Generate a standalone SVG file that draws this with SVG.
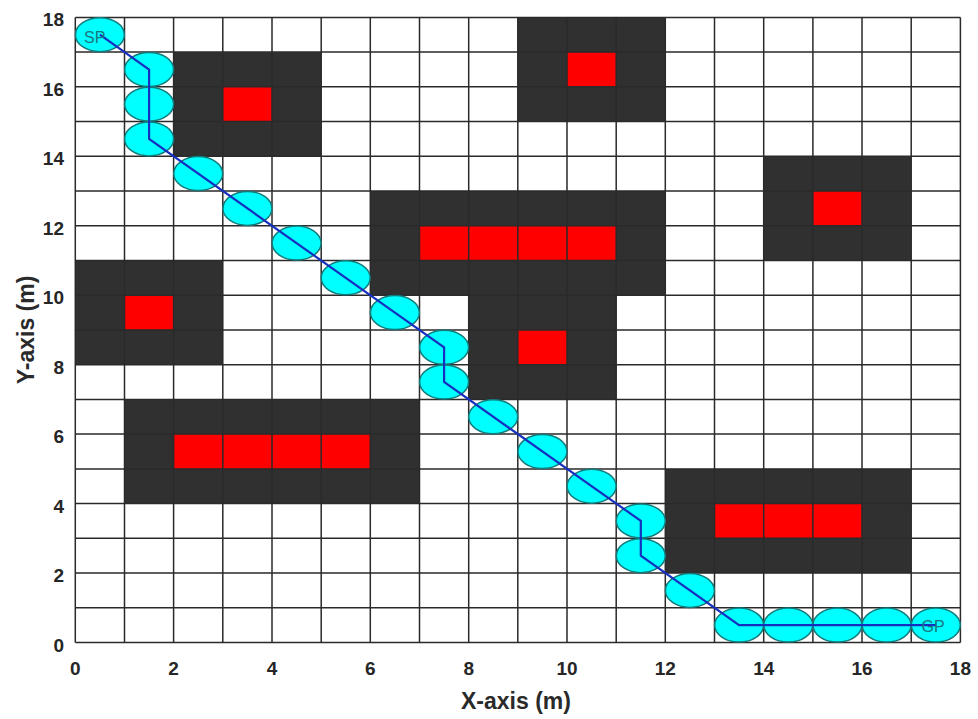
<svg xmlns="http://www.w3.org/2000/svg" width="978" height="719" viewBox="0 0 978 719">
<style>
.obs{fill:#303030}
.red{fill:#ff0000}
.grid{stroke:#2a2a2a;stroke-width:1.5;fill:none}
.wp{fill:#00ffff;stroke:#127a7a;stroke-width:1.5}
.route{fill:none;stroke:#1530c0;stroke-width:2.2;stroke-linejoin:miter}
.tick{font-family:"Liberation Sans",Arial,sans-serif;font-size:19px;font-weight:bold;fill:#262626}
.axl{font-family:"Liberation Sans",Arial,sans-serif;font-size:23px;font-weight:bold;fill:#2a2a2a}
.lbl{font-family:"Liberation Sans",Arial,sans-serif;font-size:16px;fill:#17777d}
</style>
<rect x="0" y="0" width="978" height="719" fill="#ffffff"/>
<g id="obstacles">
<g id="obstacle1"><rect class="obs" x="173.6" y="52.1" width="147.5" height="104.2"/><rect class="red" x="222.8" y="86.8" width="49.2" height="34.7"/></g>
<g id="obstacle2"><rect class="obs" x="517.8" y="17.4" width="147.5" height="104.2"/><rect class="red" x="567.0" y="52.1" width="49.2" height="34.7"/></g>
<g id="obstacle3"><rect class="obs" x="763.7" y="156.3" width="147.5" height="104.2"/><rect class="red" x="812.9" y="191.0" width="49.2" height="34.7"/></g>
<g id="obstacle4"><rect class="obs" x="370.3" y="191.0" width="295.0" height="104.2"/><rect class="red" x="419.5" y="225.7" width="196.7" height="34.7"/></g>
<g id="obstacle5"><rect class="obs" x="75.3" y="260.5" width="147.5" height="104.2"/><rect class="red" x="124.5" y="295.2" width="49.2" height="34.7"/></g>
<g id="obstacle6"><rect class="obs" x="468.7" y="295.2" width="147.5" height="104.2"/><rect class="red" x="517.8" y="329.9" width="49.2" height="34.7"/></g>
<g id="obstacle7"><rect class="obs" x="124.5" y="399.4" width="295.0" height="104.2"/><rect class="red" x="173.6" y="434.1" width="196.7" height="34.7"/></g>
<g id="obstacle8"><rect class="obs" x="665.3" y="468.9" width="245.9" height="104.2"/><rect class="red" x="714.5" y="503.6" width="147.5" height="34.7"/></g>
</g>
<g id="grid">
<path class="grid" d="M75.3 17.4V642.5M124.5 17.4V642.5M173.6 17.4V642.5M222.8 17.4V642.5M272.0 17.4V642.5M321.2 17.4V642.5M370.3 17.4V642.5M419.5 17.4V642.5M468.7 17.4V642.5M517.8 17.4V642.5M567.0 17.4V642.5M616.2 17.4V642.5M665.3 17.4V642.5M714.5 17.4V642.5M763.7 17.4V642.5M812.9 17.4V642.5M862.0 17.4V642.5M911.2 17.4V642.5M960.4 17.4V642.5"/>
<path class="grid" d="M75.3 642.5H960.4M75.3 607.8H960.4M75.3 573.0H960.4M75.3 538.3H960.4M75.3 503.6H960.4M75.3 468.9H960.4M75.3 434.1H960.4M75.3 399.4H960.4M75.3 364.7H960.4M75.3 329.9H960.4M75.3 295.2H960.4M75.3 260.5H960.4M75.3 225.7H960.4M75.3 191.0H960.4M75.3 156.3H960.4M75.3 121.6H960.4M75.3 86.8H960.4M75.3 52.1H960.4M75.3 17.4H960.4"/>
</g>
<g id="waypoints">
<g id="SP"><ellipse class="wp" cx="99.9" cy="34.7" rx="24.5" ry="17"/></g>
<g id="wp1"><ellipse class="wp" cx="149.1" cy="69.5" rx="24.5" ry="17"/></g>
<g id="wp2"><ellipse class="wp" cx="149.1" cy="104.2" rx="24.5" ry="17"/></g>
<g id="wp3"><ellipse class="wp" cx="149.1" cy="138.9" rx="24.5" ry="17"/></g>
<g id="wp4"><ellipse class="wp" cx="198.2" cy="173.6" rx="24.5" ry="17"/></g>
<g id="wp5"><ellipse class="wp" cx="247.4" cy="208.4" rx="24.5" ry="17"/></g>
<g id="wp6"><ellipse class="wp" cx="296.6" cy="243.1" rx="24.5" ry="17"/></g>
<g id="wp7"><ellipse class="wp" cx="345.7" cy="277.8" rx="24.5" ry="17"/></g>
<g id="wp8"><ellipse class="wp" cx="394.9" cy="312.6" rx="24.5" ry="17"/></g>
<g id="wp9"><ellipse class="wp" cx="444.1" cy="347.3" rx="24.5" ry="17"/></g>
<g id="wp10"><ellipse class="wp" cx="444.1" cy="382.0" rx="24.5" ry="17"/></g>
<g id="wp11"><ellipse class="wp" cx="493.2" cy="416.8" rx="24.5" ry="17"/></g>
<g id="wp12"><ellipse class="wp" cx="542.4" cy="451.5" rx="24.5" ry="17"/></g>
<g id="wp13"><ellipse class="wp" cx="591.6" cy="486.2" rx="24.5" ry="17"/></g>
<g id="wp14"><ellipse class="wp" cx="640.8" cy="520.9" rx="24.5" ry="17"/></g>
<g id="wp15"><ellipse class="wp" cx="640.8" cy="555.7" rx="24.5" ry="17"/></g>
<g id="wp16"><ellipse class="wp" cx="689.9" cy="590.4" rx="24.5" ry="17"/></g>
<g id="wp17"><ellipse class="wp" cx="739.1" cy="625.1" rx="24.5" ry="17"/></g>
<g id="wp18"><ellipse class="wp" cx="788.3" cy="625.1" rx="24.5" ry="17"/></g>
<g id="wp19"><ellipse class="wp" cx="837.4" cy="625.1" rx="24.5" ry="17"/></g>
<g id="wp20"><ellipse class="wp" cx="886.6" cy="625.1" rx="24.5" ry="17"/></g>
<g id="GP"><ellipse class="wp" cx="935.8" cy="625.1" rx="24.5" ry="17"/></g>
</g>
<g id="connectors">
<polyline class="route" points="99.9,34.7 149.1,69.5 149.1,138.9 394.9,312.6 444.1,347.3 444.1,382.0 640.8,520.9 640.8,555.7 739.1,625.1 935.8,625.1"/>
</g>
<g id="labels">
<text class="lbl" x="84" y="43">SP</text>
<text class="lbl" x="921.5" y="631.5">GP</text>
</g>
<g id="xticks" text-anchor="middle">
<text class="tick" x="75.3" y="675">0</text>
<text class="tick" x="173.6" y="675">2</text>
<text class="tick" x="272.0" y="675">4</text>
<text class="tick" x="370.3" y="675">6</text>
<text class="tick" x="468.7" y="675">8</text>
<text class="tick" x="567.0" y="675">10</text>
<text class="tick" x="665.3" y="675">12</text>
<text class="tick" x="763.7" y="675">14</text>
<text class="tick" x="862.0" y="675">16</text>
<text class="tick" x="960.4" y="675">18</text>
</g>
<g id="yticks" text-anchor="end">
<text class="tick" x="64" y="652">0</text>
<text class="tick" x="64" y="582">2</text>
<text class="tick" x="64" y="513">4</text>
<text class="tick" x="64" y="443">6</text>
<text class="tick" x="64" y="374">8</text>
<text class="tick" x="64" y="304">10</text>
<text class="tick" x="64" y="235">12</text>
<text class="tick" x="64" y="165">14</text>
<text class="tick" x="64" y="96">16</text>
<text class="tick" x="64" y="26">18</text>
</g>
<g id="axis-labels">
<text class="axl" x="516" y="709" text-anchor="middle">X-axis (m)</text>
<text class="axl" x="0" y="0" text-anchor="middle" transform="translate(33.5,330) rotate(-90)">Y-axis (m)</text>
</g>
</svg>
